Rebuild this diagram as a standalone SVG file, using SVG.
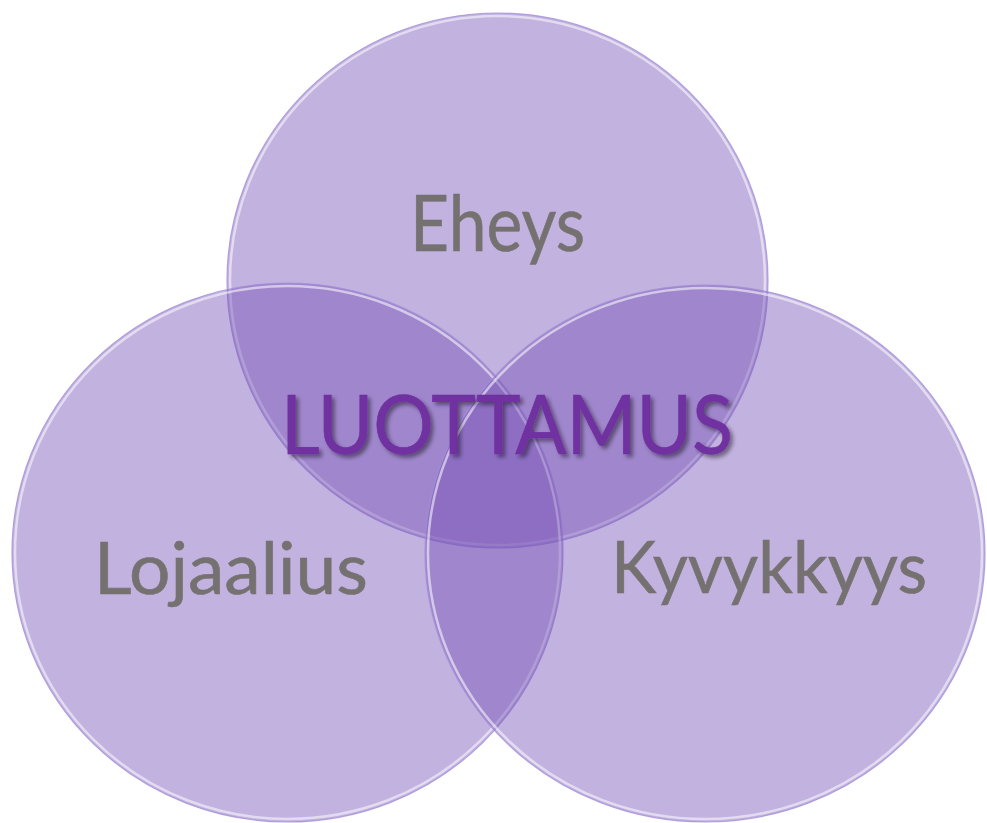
<svg xmlns="http://www.w3.org/2000/svg" width="987" height="823" viewBox="0 0 987 823">
  <defs>
    <style>
      .disc { fill: rgb(117,79,183); fill-opacity: 0.44; stroke: #a48fd8; stroke-width: 1.2; stroke-opacity: 0.8; }
      .rim { fill: none; stroke: #ffffff; stroke-width: 2.5; stroke-opacity: 0.55; }
      .lbl { font-family: Lato, "Open Sans", "Liberation Sans", sans-serif; fill: #767171; }
      .core { font-family: Lato, "Open Sans", "Liberation Sans", sans-serif; fill: #7030A0; }
    </style>
    <filter id="shadow" x="-10%" y="-30%" width="120%" height="160%">
      <feGaussianBlur in="SourceAlpha" stdDeviation="2"/>
      <feOffset dx="3" dy="3" result="b"/>
      <feComponentTransfer><feFuncA type="linear" slope="0.45"/></feComponentTransfer>
      <feMerge><feMergeNode/><feMergeNode in="SourceGraphic"/></feMerge>
    </filter>
  </defs>

  <g id="circle-eheys">
    <ellipse class="disc" cx="497.5" cy="280.5" rx="270.5" ry="267.5"/>
    <ellipse class="rim" cx="497.5" cy="280.5" rx="267.5" ry="264.5"/>
  </g>
  <g id="circle-lojaalius">
    <ellipse class="disc" cx="287.5" cy="552.5" rx="275.5" ry="269.5"/>
    <ellipse class="rim" cx="287.5" cy="552.5" rx="272.5" ry="266.5"/>
  </g>
  <g id="circle-kyvykkyys">
    <ellipse class="disc" cx="705" cy="553.5" rx="280" ry="268.5"/>
    <ellipse class="rim" cx="705" cy="553.5" rx="277" ry="265.5"/>
  </g>

  <g id="label-eheys">
    <text class="lbl" x="410" y="251" font-size="78" textLength="175" lengthAdjust="spacingAndGlyphs" stroke="#767171" stroke-width="0.6">Eheys</text>
  </g>
  <g id="label-lojaalius">
    <text class="lbl" x="94" y="594" font-size="71" textLength="274" lengthAdjust="spacingAndGlyphs" stroke="#767171" stroke-width="0.6">Lojaalius</text>
  </g>
  <g id="label-kyvykkyys">
    <text class="lbl" x="611" y="593" font-size="71" textLength="316" lengthAdjust="spacingAndGlyphs" stroke="#767171" stroke-width="0.6">Kyvykkyys</text>
  </g>
  <g id="label-luottamus">
    <text class="core" x="281" y="454" font-size="81" textLength="452" lengthAdjust="spacingAndGlyphs" stroke="#7030A0" stroke-width="0.6" filter="url(#shadow)">LUOTTAMUS</text>
  </g>
  <g id="connectors"/>
</svg>
